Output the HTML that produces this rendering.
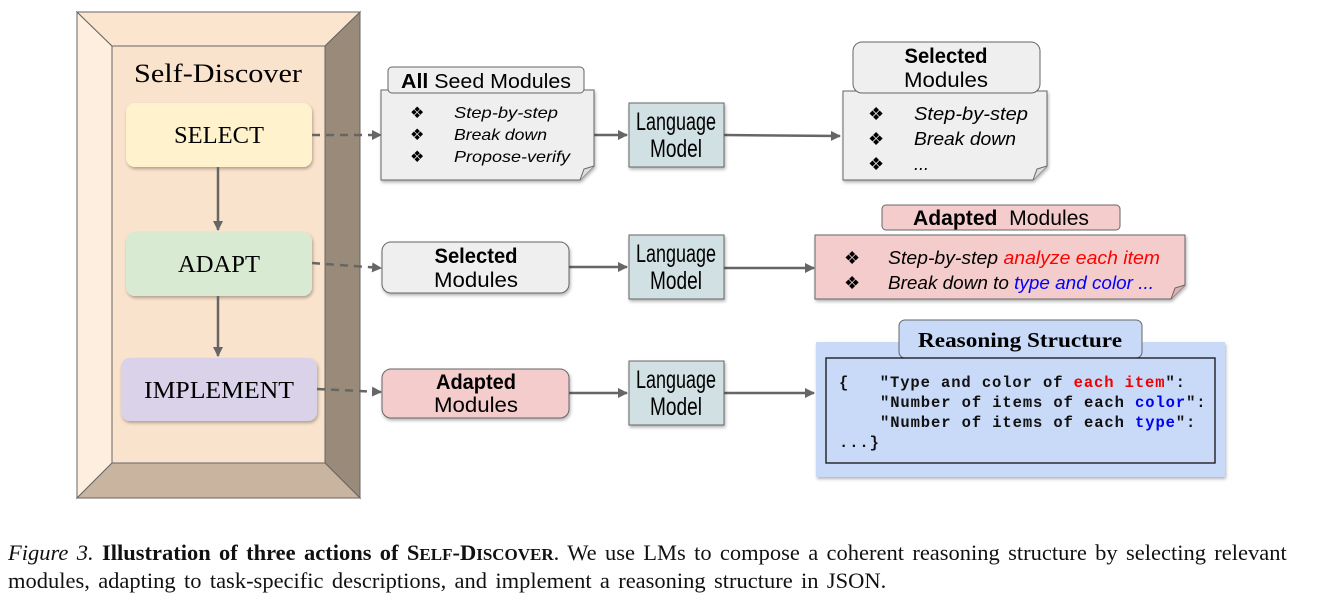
<!DOCTYPE html>
<html><head><meta charset="utf-8"><style>
body{margin:0;background:#fff;width:1320px;height:606px;overflow:hidden}
.cap{position:absolute;left:8px;top:540px;white-space:nowrap;font-family:"Liberation Serif",serif;font-size:22.5px;line-height:26px;color:#111;word-spacing:2.7px}
</style></head><body>
<svg width="1320" height="520" style="position:absolute;left:0;top:0" font-family="Liberation Serif, serif">
<defs>
<marker id="a" markerWidth="10" markerHeight="10" refX="9" refY="5" orient="auto" markerUnits="userSpaceOnUse"><path d="M0,0 L10,5 L0,10 z" fill="#666"/></marker>
<filter id="s" x="-5%" y="-5%" width="115%" height="120%"><feDropShadow dx="1" dy="2" stdDeviation="1.5" flood-color="#000" flood-opacity="0.3"/></filter>
</defs>
<polygon points="77,12 112,46 112,463 77,498" fill="#fdeee0" stroke="#666"/>
<polygon points="77,12 360,12 325,46 112,46" fill="#fbe5cf" stroke="#666"/>
<polygon points="360,12 360,498 325,463 325,46" fill="#998a79" stroke="#666"/>
<polygon points="77,498 112,463 325,463 360,498" fill="#c8b49f" stroke="#666"/>
<rect x="112" y="46" width="213" height="417" fill="#fae3cc" stroke="#666"/>
<text x="218" y="82" font-size="26" text-anchor="middle" textLength="168" lengthAdjust="spacingAndGlyphs">Self-Discover</text>
<rect x="126" y="103" width="186" height="64" rx="9" fill="#fff2cc" filter="url(#s)"/>
<text x="219" y="143" font-size="24" text-anchor="middle" textLength="90" lengthAdjust="spacingAndGlyphs">SELECT</text>
<rect x="126" y="232" width="186" height="64" rx="9" fill="#d9ead3" filter="url(#s)"/>
<text x="219" y="272" font-size="24" text-anchor="middle" textLength="82" lengthAdjust="spacingAndGlyphs">ADAPT</text>
<rect x="121" y="358" width="196" height="63" rx="9" fill="#d9d2e9" filter="url(#s)"/>
<text x="219" y="398" font-size="24" text-anchor="middle" textLength="150" lengthAdjust="spacingAndGlyphs">IMPLEMENT</text>
<g stroke="#666" stroke-width="2.5" fill="none">
<line x1="218" y1="167" x2="218" y2="230" marker-end="url(#a)"/>
<line x1="218" y1="296" x2="218" y2="356" marker-end="url(#a)"/>
<line x1="312" y1="135" x2="381" y2="135" stroke-dasharray="8,6" marker-end="url(#a)"/>
<line x1="312" y1="263" x2="381" y2="268" stroke-dasharray="8,6" marker-end="url(#a)"/>
<line x1="317" y1="389" x2="381" y2="392" stroke-dasharray="8,6" marker-end="url(#a)"/>
<line x1="594" y1="135" x2="627" y2="135" marker-end="url(#a)"/>
<line x1="724" y1="135" x2="840" y2="136" marker-end="url(#a)"/>
<line x1="569" y1="267" x2="627" y2="267" marker-end="url(#a)"/>
<line x1="724" y1="268" x2="814" y2="268" marker-end="url(#a)"/>
<line x1="569" y1="393" x2="627" y2="393" marker-end="url(#a)"/>
<line x1="724" y1="393" x2="814" y2="393" marker-end="url(#a)"/>
</g>
<g font-family="Liberation Sans, sans-serif">
<path d="M381,90 H594 V166 L580,180 H381 Z" fill="#efefef" stroke="#666" filter="url(#s)"/>
<path d="M580,180 L584,169 L594,166" fill="#ddd" stroke="#666"/>
<rect x="388" y="67" width="196" height="26" rx="4" fill="#efefef" stroke="#666"/>
<text x="486" y="88" font-size="20" text-anchor="middle" textLength="170" lengthAdjust="spacingAndGlyphs"><tspan font-weight="bold">All</tspan> Seed Modules</text>
<g font-size="16" font-style="italic"><text x="410" y="118" font-style="normal">❖</text><text x="454" y="118" textLength="104" lengthAdjust="spacingAndGlyphs">Step-by-step</text>
<text x="410" y="140" font-style="normal">❖</text><text x="454" y="140" textLength="93" lengthAdjust="spacingAndGlyphs">Break down</text>
<text x="410" y="162" font-style="normal">❖</text><text x="454" y="162" textLength="116" lengthAdjust="spacingAndGlyphs">Propose-verify</text></g>
<g font-size="25" text-anchor="middle">
<rect x="629" y="103" width="95" height="64" fill="#d0e0e3" stroke="#666" filter="url(#s)"/>
<text x="676" y="130" textLength="80" lengthAdjust="spacingAndGlyphs">Language</text><text x="676" y="157" textLength="52" lengthAdjust="spacingAndGlyphs">Model</text>
<rect x="629" y="235" width="95" height="64" fill="#d0e0e3" stroke="#666" filter="url(#s)"/>
<text x="676" y="262" textLength="80" lengthAdjust="spacingAndGlyphs">Language</text><text x="676" y="289" textLength="52" lengthAdjust="spacingAndGlyphs">Model</text>
<rect x="629" y="361" width="95" height="64" fill="#d0e0e3" stroke="#666" filter="url(#s)"/>
<text x="676" y="388" textLength="80" lengthAdjust="spacingAndGlyphs">Language</text><text x="676" y="415" textLength="52" lengthAdjust="spacingAndGlyphs">Model</text>
</g>
<path d="M843,91 H1047 V166 L1033,180 H843 Z" fill="#efefef" stroke="#666" filter="url(#s)"/>
<path d="M1033,180 L1037,169 L1047,166" fill="#ddd" stroke="#666"/>
<rect x="853" y="42" width="187" height="51" rx="9" fill="#efefef" stroke="#666"/>
<text x="946" y="63" font-size="21" font-weight="bold" text-anchor="middle" textLength="83" lengthAdjust="spacingAndGlyphs">Selected</text>
<text x="946" y="87" font-size="21" text-anchor="middle" textLength="84" lengthAdjust="spacingAndGlyphs">Modules</text>
<g font-size="18" font-style="italic"><text x="868" y="120" font-style="normal">❖</text><text x="914" y="120" textLength="114" lengthAdjust="spacingAndGlyphs">Step-by-step</text>
<text x="868" y="145" font-style="normal">❖</text><text x="914" y="145" textLength="102" lengthAdjust="spacingAndGlyphs">Break down</text>
<text x="868" y="170" font-style="normal">❖</text><text x="914" y="170">...</text></g>
<rect x="382" y="242" width="187" height="51" rx="9" fill="#efefef" stroke="#666" filter="url(#s)"/>
<text x="476" y="263" font-size="21" font-weight="bold" text-anchor="middle" textLength="83" lengthAdjust="spacingAndGlyphs">Selected</text>
<text x="476" y="287" font-size="21" text-anchor="middle" textLength="84" lengthAdjust="spacingAndGlyphs">Modules</text>
<path d="M815,235 H1185 V285 L1171,299 H815 Z" fill="#f4cccc" stroke="#666" filter="url(#s)"/>
<path d="M1171,299 L1175,288 L1185,285" fill="#e0b0b0" stroke="#666"/>
<rect x="882" y="205" width="238" height="25" rx="4" fill="#f4cccc" stroke="#666"/>
<text x="1001" y="225" font-size="21" text-anchor="middle" textLength="176" lengthAdjust="spacingAndGlyphs"><tspan font-weight="bold">Adapted</tspan>&#160; Modules</text>
<g font-size="18" font-style="italic"><text x="844" y="264" font-style="normal">❖</text><text x="888" y="264" textLength="272" lengthAdjust="spacingAndGlyphs">Step-by-step <tspan fill="#f00">analyze each item</tspan></text>
<text x="844" y="289" font-style="normal">❖</text><text x="888" y="289" textLength="266" lengthAdjust="spacingAndGlyphs">Break down to <tspan fill="#00f">type and color ...</tspan></text></g>
<rect x="382" y="369" width="187" height="49" rx="9" fill="#f4cccc" stroke="#666" filter="url(#s)"/>
<text x="476" y="389" font-size="21" font-weight="bold" text-anchor="middle" textLength="80" lengthAdjust="spacingAndGlyphs">Adapted</text>
<text x="476" y="412" font-size="21" text-anchor="middle" textLength="84" lengthAdjust="spacingAndGlyphs">Modules</text>
</g>
<rect x="816" y="342" width="409" height="135" fill="#c9daf8" filter="url(#s)"/>
<rect x="899" y="320" width="243" height="38" rx="6" fill="#c9daf8" stroke="#666"/>
<text x="1020" y="347" font-size="21" font-weight="bold" text-anchor="middle" textLength="204" lengthAdjust="spacingAndGlyphs">Reasoning Structure</text>
<rect x="826" y="358" width="389" height="105" fill="#c9daf8" stroke="#111" stroke-width="1.3"/>
<g font-family="Liberation Mono, monospace" font-size="15.5" font-weight="bold" fill="#111" letter-spacing="0.9">
<text x="839" y="387">{&#160;&#160;&#160;"Type and color of <tspan fill="#e00">each item</tspan>":</text>
<text x="880" y="407">"Number of items of each <tspan fill="#00e">color</tspan>":</text>
<text x="880" y="427">"Number of items of each <tspan fill="#00e">type</tspan>":</text>
<text x="839" y="447">...}</text>
</g>
</svg>
<div class="cap"><i>Figure 3.</i> <b>Illustration of three actions of S<span style="font-size:17px">ELF</span>-D<span style="font-size:17px">ISCOVER</span></b>. We use LMs to compose a coherent reasoning structure by selecting relevant<br>modules, adapting to task-specific descriptions, and implement a reasoning structure in JSON.</div>
</body></html>
